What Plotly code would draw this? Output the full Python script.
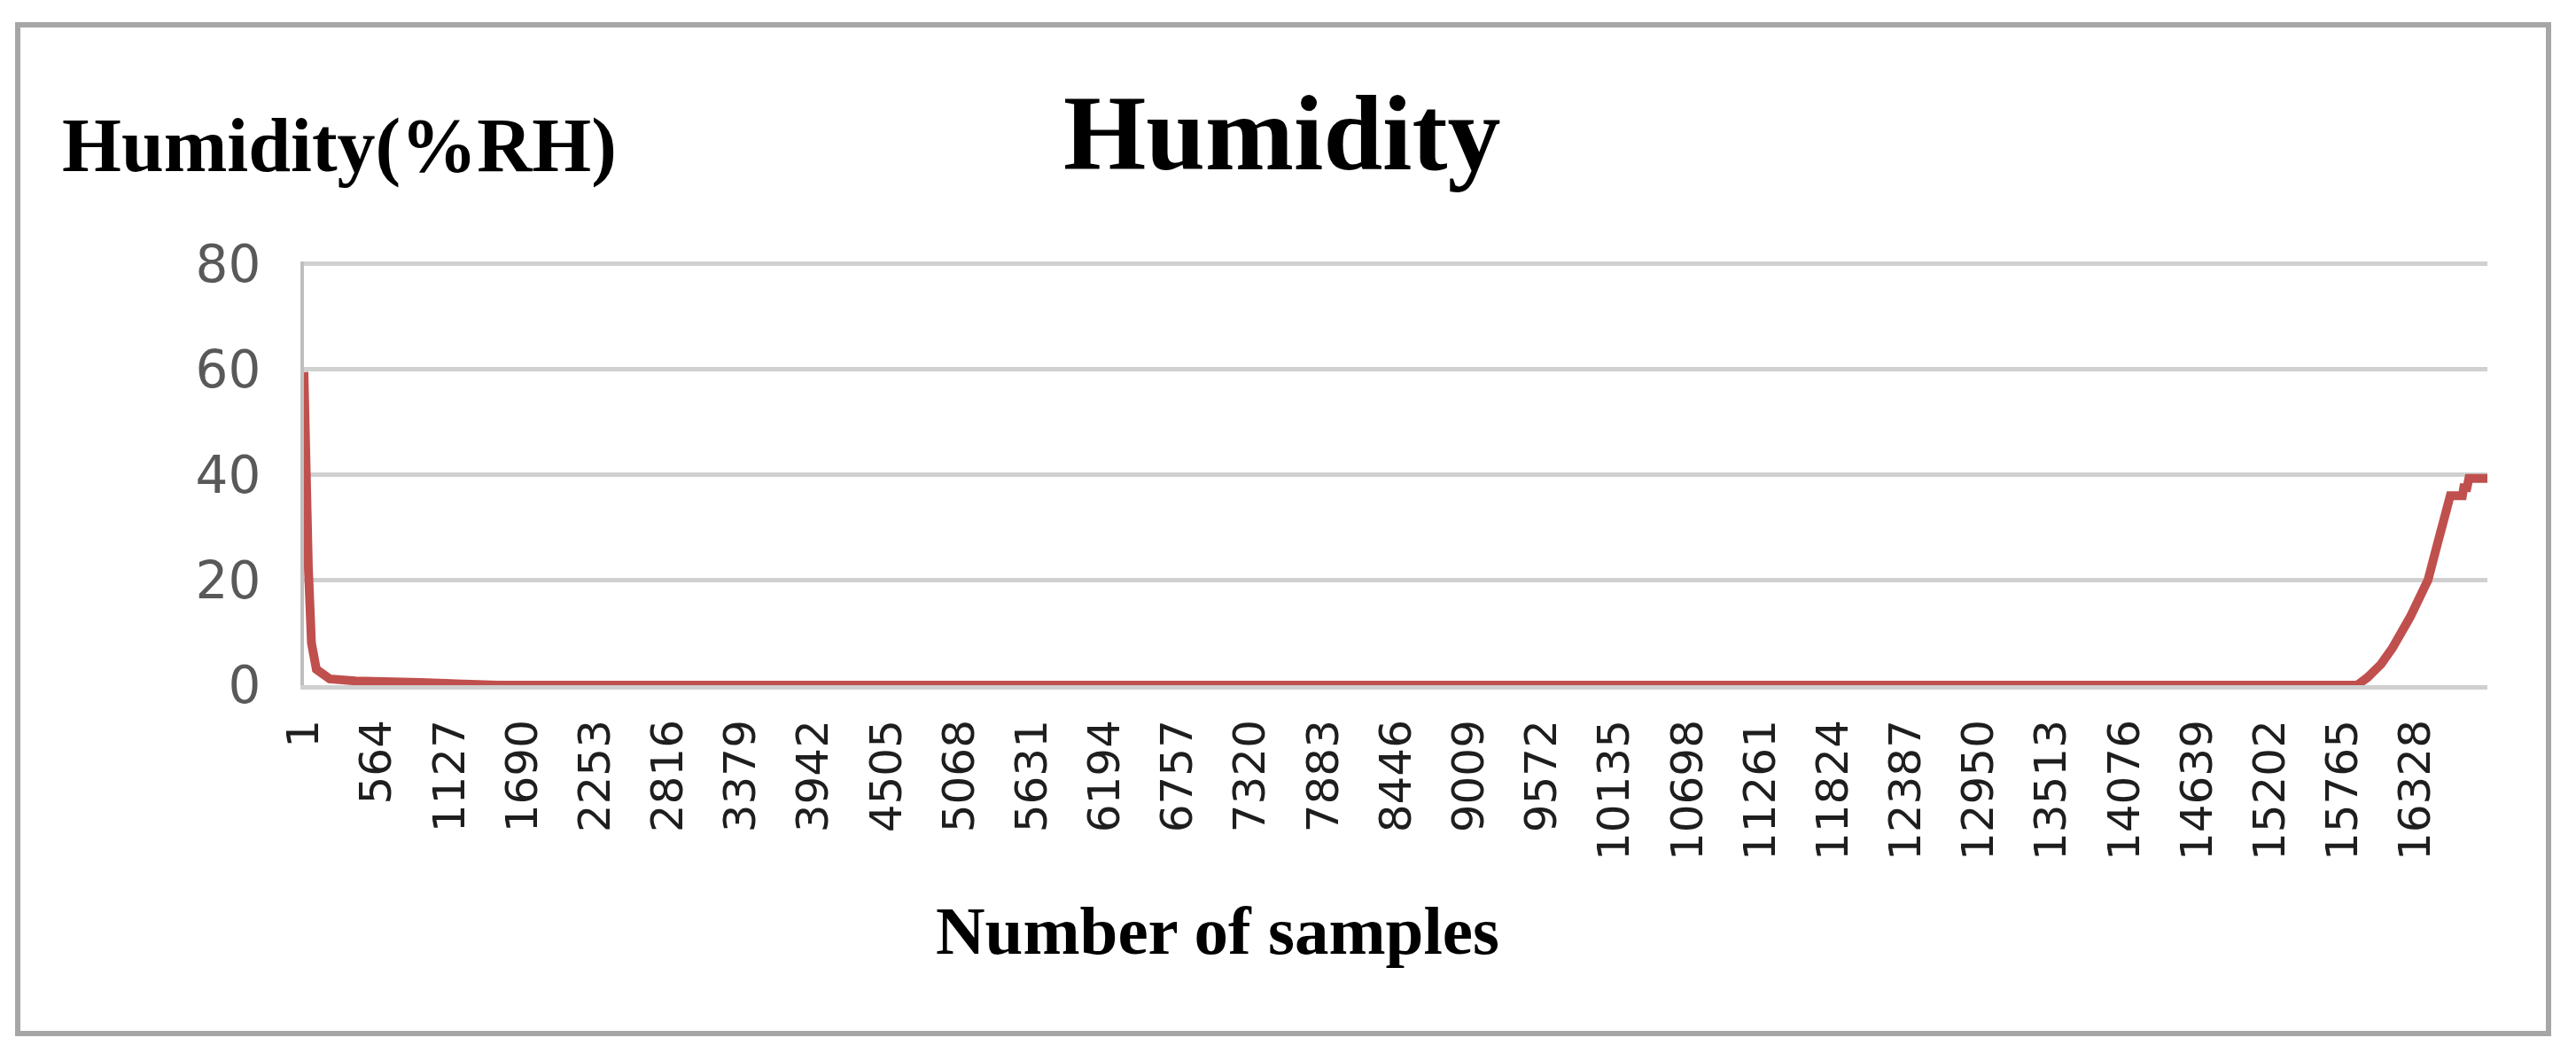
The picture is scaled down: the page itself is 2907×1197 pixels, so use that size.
import plotly.graph_objects as go

# samples (sample number, humidity %RH)
samples = [1, 5, 10, 20, 35, 59, 97, 200, 400, 900, 1200, 1500,
           15876, 15958, 16061, 16150, 16287, 16424, 16493, 16561,
           16596, 16690, 16700, 16725, 16740, 16883]
humidity = [59.5, 52, 44, 32, 22.5, 8, 3, 1.2, 0.8, 0.5, 0.2, 0,
            0, 1.5, 4, 7.1, 13, 20, 26.5, 32.8,
            36, 36, 37.5, 37.5, 39.3, 39.3]

x_ticks = [1, 564, 1127, 1690, 2253, 2816, 3379, 3942, 4505, 5068,
           5631, 6194, 6757, 7320, 7883, 8446, 9009, 9572, 10135, 10698,
           11261, 11824, 12387, 12950, 13513, 14076, 14639, 15202, 15765, 16328]
y_ticks = [0, 20, 40, 60, 80]

OFF = 8                      # page body margin
W, H = 2907 - 2 * OFF, 1197 - 2 * OFF
L, R, B = 343 - OFF, 2807 - OFF, 773 - OFF
Y_MAX = 80.5
T = B - 475 * Y_MAX / 80     # keeps 80 at the same spot and its gridline visible


def px(x):
    return (x - OFF - L) / (R - L)


def py(y):
    return (B - (y - OFF)) / (B - T)


fig = go.Figure()
fig.add_trace(go.Scatter(x=samples, y=humidity, mode="lines",
                         line=dict(color="#c0504d", width=10),
                         showlegend=False, hoverinfo="skip"))

fig.update_layout(
    width=W, height=H,
    margin=dict(l=L, r=W - R, t=T, b=H - B, pad=0),
    paper_bgcolor="white", plot_bgcolor="white",
    xaxis=dict(range=[samples[0], samples[-1]], tickmode="array",
               tickvals=x_ticks, ticktext=[str(v) for v in x_ticks],
               tickangle=-90, ticks="", showgrid=False, zeroline=False,
               showline=True, linecolor="#d0d0d0", linewidth=5,
               ticklabelstandoff=14,
               tickfont=dict(family="DejaVu Sans", size=50, color="#1e1e1e")),
    yaxis=dict(range=[0, Y_MAX], tickmode="array", tickvals=y_ticks,
               ticks="", showgrid=True, gridcolor="#d0d0d0", gridwidth=5,
               zeroline=False, showline=True, linecolor="#bfbfbf", linewidth=4,
               ticklabelstandoff=33,
               tickfont=dict(family="DejaVu Sans", size=58, color="#595959")),
    annotations=[
        dict(text="<b>Humidity</b>", x=px(1446), y=py(151), xref="paper", yref="paper",
             xanchor="center", yanchor="middle", showarrow=False,
             font=dict(family="Liberation Serif", size=120, color="black")),
        dict(text="<b>Humidity(%RH)</b>", x=px(68), y=py(164), xref="paper", yref="paper",
             xanchor="left", yanchor="middle", showarrow=False,
             font=dict(family="Liberation Serif", size=86, color="black")),
        dict(text="<b>Number of samples</b>", x=px(1374), y=py(1050), xref="paper", yref="paper",
             xanchor="center", yanchor="middle", showarrow=False,
             font=dict(family="Liberation Serif", size=77, color="black")),
    ],
    shapes=[
        dict(type="rect", xref="paper", yref="paper",
             x0=px(20), x1=px(2876), y0=py(1166), y1=py(28),
             line=dict(color="#a6a6a6", width=6), layer="below"),
    ],
)

fig.write_html("out.html")
